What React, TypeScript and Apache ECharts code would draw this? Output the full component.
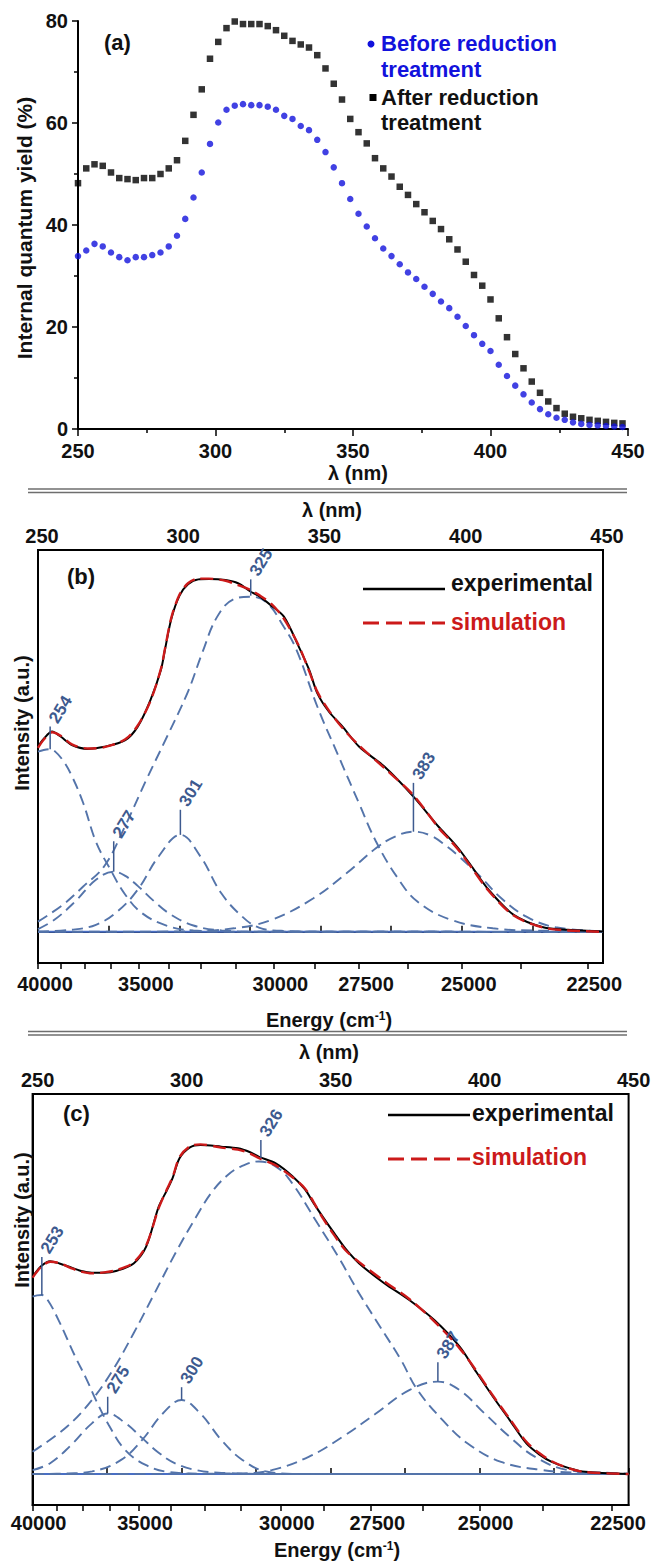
import React, { useEffect, useRef } from 'react';
import * as echarts from 'echarts';

const FONT = 'Arial, "Liberation Sans", Helvetica, sans-serif';

// ---------- Panel (a): internal quantum yield ----------
const lambdaA = [250, 253, 256, 259, 262, 265, 268, 271, 274, 277, 280, 283, 286, 289, 292, 295, 298, 301, 304, 307,
  310, 313, 316, 319, 322, 325, 328, 331, 334, 337, 340, 343, 346, 349, 352, 355, 358, 361, 364, 367,
  370, 373, 376, 379, 382, 385, 388, 391, 394, 397, 400, 403, 406, 409, 412, 415, 418, 421, 424, 427,
  430, 433, 436, 439, 442, 445, 448];
const beforeA = [33.9, 35.0, 36.3, 35.8, 34.6, 33.7, 33.1, 33.7, 33.7, 34.1,
  34.6, 35.8, 37.9, 41.2, 45.4, 50.3, 55.9, 60.1, 62.6, 63.4,
  63.7, 63.5, 63.5, 63.2, 62.6, 61.4, 60.8, 59.4, 58.6, 56.7,
  54.3, 51.3, 48.2, 45.1, 42.2, 39.7, 37.4, 35.4, 33.9, 32.3,
  30.7, 29.4, 27.9, 26.5, 25.0, 23.7, 22.0, 20.2, 18.4, 16.7,
  15.3, 12.6, 10.4, 8.5, 6.8, 5.2, 3.9, 2.9, 2.2, 1.8,
  1.3, 1.0, 0.8, 0.7, 0.6, 0.5, 0.4];
const afterA = [48.2, 51.1, 51.9, 51.6, 50.3, 49.2, 49.0, 48.8, 49.2, 49.2,
  50.0, 51.1, 52.7, 56.5, 61.6, 66.6, 72.6, 75.9, 78.6, 79.9,
  79.4, 79.4, 79.4, 79.0, 78.2, 77.1, 76.1, 75.4, 74.8, 73.3,
  70.7, 67.7, 64.6, 60.8, 58.2, 56.0, 53.1, 51.1, 49.5, 47.5,
  45.9, 44.1, 42.5, 40.8, 39.2, 37.2, 35.2, 32.8, 30.2, 28.1,
  25.4, 21.7, 18.0, 14.7, 11.9, 9.3, 7.1, 5.4, 4.1, 3.0,
  2.4, 2.1, 1.8, 1.6, 1.4, 1.2, 1.1];
const yTicksA = [0, 20, 40, 60, 80];

// ---------- Energy axis ticks (cm-1) ----------
const energyTicks = [40000, 38750, 37500, 36250, 35000, 33750, 32500, 31250, 30000, 28750, 27500, 26250, 25000, 23750, 22500];
const energyLabels = [40000, 35000, 30000, 27500, 25000, 22500];

// ---------- Panel (b) ----------
const expB = [[250, 52.3], [252, 54.5], [255, 56.6], [258, 55.2], [262, 52.8], [267.6, 51.7], [273.5, 52.3], [280.9, 54.2],
  [285.3, 58.0], [289.8, 65.5], [293.5, 74.0], [295, 80.0], [297.2, 88.5], [300.1, 95.0], [303.1, 98.2], [306.8, 99.6],
  [310.5, 99.7], [316.4, 99.4], [320.8, 98.5], [325.3, 96.1], [328, 95.0], [332.7, 92.1], [337.1, 89.0], [342.3, 80.6],
  [346, 74.0], [348.9, 67.4], [353, 62.2], [357.8, 58.0], [363.7, 52.3], [372.6, 46.7], [382.9, 38.2], [391.8, 29.7],
  [396.2, 26.0], [399.2, 23.2], [403.6, 18.4], [409.5, 11.9], [418.4, 4.8], [428.8, 1.3], [437.6, 0.6], [450, 0.1]];
const simB = [[250, 52.0], [252, 54.3], [255, 56.4], [258, 55.4], [262, 53.0], [267.6, 51.8], [273.5, 52.2], [280.9, 54.4],
  [285.3, 58.3], [289.8, 65.2], [293.5, 74.3], [295, 80.2], [297.2, 88.8], [300.1, 95.3], [303.1, 98.5], [306.8, 99.8],
  [310.5, 99.8], [316.4, 99.2], [320.8, 98.0], [325.3, 96.6], [328, 95.3], [332.7, 92.6], [337.1, 88.4], [342.3, 80.9],
  [346, 73.6], [348.9, 67.8], [353, 62.5], [357.8, 57.6], [363.7, 52.6], [372.6, 46.3], [382.9, 38.6], [391.8, 29.4],
  [396.2, 25.6], [399.2, 22.8], [403.6, 18.0], [409.5, 11.6], [418.4, 4.6], [428.8, 1.2], [437.6, 0.4], [450, 0.0]];
const c254B = [[250, 50.9], [252, 51.4], [254.3, 51.6], [256, 51.0], [258.7, 48.6], [262, 44.0], [266, 36.4], [270.5, 25.5],
  [275.7, 17.5], [280.9, 10.5], [286.8, 5.3], [295.7, 1.7], [305, 0.4], [320, 0.05], [450, 0]];
const c277B = [[250, 0.8], [255.8, 3.4], [263.2, 8.6], [270.5, 14.7], [276.8, 17.0], [280.9, 15.8], [285.3, 13.0],
  [291.3, 8.5], [297.2, 4.8], [305, 1.8], [315, 0.4], [330, 0.05], [450, 0]];
const c301B = [[250, 0.1], [262, 0.6], [270.5, 2.0], [278, 5.7], [285.3, 11.9], [292.7, 21.3], [300.4, 27.4], [307.5, 21.3],
  [314.9, 10.9], [322.3, 4.3], [328.2, 1.2], [336, 0.3], [350, 0.05], [450, 0]];
const c325B = [[250, 2.9], [258.7, 7.6], [266, 12.8], [273.5, 18.6], [280.9, 30.0], [288.3, 42.9], [295.7, 55.2],
  [303.1, 67.9], [308.3, 79.2], [313.4, 89.0], [319.3, 94.0], [325.3, 94.7], [331, 93.0], [337, 86.2], [341.5, 79.7],
  [349, 63.4], [356.3, 49.8], [363.7, 36.2], [369.6, 25.6], [377, 15.6], [384.4, 8.5], [396.2, 3.4], [411, 1.0],
  [430, 0.3], [450, 0.1]];
const c383B = [[250, 0], [300, 0.1], [319.4, 1.0], [332.7, 3.4], [347.5, 9.5], [359.3, 16.6], [369.6, 23.6], [376, 26.8],
  [382.9, 28.3], [389, 27.2], [394.8, 24.1], [399.2, 21.2], [406.6, 15.6], [414, 9.5], [422.9, 4.3], [433.2, 1.3], [450, 0.2]];
const baseB = [[250, 0], [450, 0]];
const peaksB = [[254.3, 51.6, 58.0], [276.8, 17.0, 25.6], [300.4, 27.4, 34.5], [325.3, 95.0, 99.6], [382.9, 28.3, 42.1]];
const peakLabelsB = ['254', '277', '301', '325', '383'];

// ---------- Panel (c) ----------
const expC = [[250, 60.0], [253, 63.3], [255.9, 64.7], [259, 64.0], [262.9, 62.8], [266, 61.8], [269.9, 61.2], [274, 61.2],
  [278.3, 61.8], [283.9, 64.0], [288.1, 69.1], [292.3, 81.2], [295.1, 86.3], [297, 90.0], [299.3, 96.0], [302.8, 99.3],
  [306.3, 100], [313.3, 99.5], [318.9, 99.0], [323, 97.8], [326, 96.4], [331.6, 94.4], [337.2, 90.5], [341.4, 86.5],
  [344.2, 82.5], [347.5, 78.0], [351.2, 73.2], [355, 68.5], [359.6, 64.0], [368, 58.0], [376.4, 52.9], [384.8, 46.8],
  [393.3, 38.7], [398.9, 31.0], [404.5, 23.5], [410.1, 16.4], [415.7, 9.3], [420, 6.0], [424.2, 3.7], [430, 1.8],
  [435.4, 0.7], [450, 0]];
const simC = [[250, 59.7], [253, 63.1], [255.9, 64.5], [259, 64.1], [262.9, 62.6], [266, 61.6], [269.9, 61.0], [274, 61.3],
  [278.3, 62.0], [283.9, 64.3], [288.1, 69.4], [292.3, 80.8], [295.1, 86.6], [297, 90.3], [299.3, 96.3], [302.8, 99.6],
  [306.3, 100.2], [313.3, 99.2], [318.9, 98.6], [323, 97.4], [326, 96.0], [331.6, 93.8], [337.2, 90.2], [341.4, 86.8],
  [344.2, 82.8], [347.5, 77.6], [351.2, 72.6], [355, 68.0], [359.6, 64.4], [368, 58.6], [376.4, 53.2], [384.8, 46.4],
  [393.3, 38.2], [398.9, 31.4], [404.5, 23.8], [410.1, 16.8], [415.7, 9.8], [420, 6.4], [424.2, 3.9], [430, 1.7],
  [435.4, 0.6], [450, 0]];
const c253C = [[250, 53.9], [251.5, 54.3], [253.1, 54.4], [255, 53.0], [258.7, 46.8], [264.3, 35.7], [268, 29.0],
  [271.5, 22.0], [275.5, 15.0], [281.1, 7.3], [288.1, 2.7], [296, 0.6], [310, 0.05], [450, 0]];
const c275C = [[250, 1.2], [255.9, 3.3], [262.9, 8.8], [269.9, 15.4], [275.2, 18.4], [281.1, 15.5], [286.7, 11.0],
  [292.3, 6.5], [298, 3.2], [305, 1.2], [315, 0.3], [330, 0.05], [450, 0]];
const c300C = [[250, 0], [262, 0.2], [270, 0.8], [279.7, 4.3], [286.7, 10.3], [293.7, 18.4], [300, 22.5], [306.3, 18.4],
  [313.4, 10.3], [320.4, 4.3], [328.8, 0.7], [340, 0.05], [450, 0]];
const c326C = [[250, 6.8], [261.5, 14.4], [269.9, 22.5], [276.9, 31.6], [283.9, 42.8], [290.9, 54.9], [297.9, 67.1],
  [304.9, 78.2], [310, 85.5], [315, 90.5], [320, 93.5], [326, 95.0], [332, 93.2], [337, 88.5], [345.6, 76.2],
  [352.6, 66.0], [359.6, 54.9], [366.6, 44.8], [373.6, 34.7], [379.2, 25.5], [387.6, 16.4], [396, 9.3], [407.2, 3.7],
  [421.2, 1.2], [435, 0.3], [450, 0]];
const c387C = [[250, 0], [320, 0.2], [330.2, 1.2], [342.8, 5.3], [354, 11.3], [365.2, 18.4], [376.4, 25.5], [386, 28.1],
  [393.3, 25.5], [401.7, 18.4], [410.1, 11.3], [418.5, 5.3], [429.7, 1.2], [445, 0.3], [450, 0.1]];
const baseC = [[250, 0], [450, 0]];
const peaksC = [[253.1, 54.4, 66.0], [275.2, 18.4, 23.5], [300, 22.5, 26.4], [326.6, 96.0, 101.5], [386, 28.1, 34.0]];
const peakLabelsC = ['253', '275', '300', '326', '387'];

// ---------- styles ----------
const BLUE = '#1212dc';
const RED = '#cc1a1a';
const COMP = '#5474aa';
const BASE = '#4a6fc4';
const ANN = '#3d5a8f';
const LBL = { fontFamily: FONT, fontWeight: 'bold' as const, fontSize: 20, color: '#111' };

function compSeries(data: number[][], gi: number) {
  return {
    type: 'line', xAxisIndex: gi === 1 ? 1 : 3, yAxisIndex: gi, data, smooth: 0.4, symbol: 'none', silent: true,
    lineStyle: { color: COMP, width: 1.9, type: [11, 6] }, z: 2,
  };
}
function curveSeries(data: number[][], gi: number, color: string, dashed: boolean) {
  return {
    type: 'line', xAxisIndex: gi === 1 ? 1 : 3, yAxisIndex: gi, data, smooth: 0.3, symbol: 'none', silent: true,
    lineStyle: { color, width: dashed ? 2.4 : 2, type: dashed ? [13, 6] : 'solid' }, z: dashed ? 4 : 3,
  };
}
function peakSeries(data: number[][], labels: string[], gi: number) {
  return {
    type: 'custom', xAxisIndex: gi === 1 ? 1 : 3, yAxisIndex: gi, data, silent: true, z: 5,
    encode: { x: 0, y: 1 },
    renderItem: (params: any, api: any) => {
      const p0 = api.coord([api.value(0), api.value(1)]);
      const p1 = api.coord([api.value(0), api.value(2)]);
      return {
        type: 'group',
        children: [
          { type: 'line', shape: { x1: p0[0], y1: p0[1], x2: p1[0], y2: p1[1] }, style: { stroke: ANN, lineWidth: 1.5 } },
          {
            type: 'text', x: p1[0] + 3, y: p1[1] - 5, rotation: 1.02,
            style: {
              text: labels[params.dataIndex], fill: ANN, font: `bold 17px ${FONT}`,
              textAlign: 'left', textVerticalAlign: 'middle', align: 'left', verticalAlign: 'middle',
            },
          },
        ],
      };
    },
  };
}

function txt(text: string, x: number, y: number, opts: any = {}) {
  return {
    type: 'text', x, y, rotation: opts.rotation || 0, silent: true, z: 10,
    style: {
      text, fill: opts.color || '#111', font: `bold ${opts.size || 20}px ${FONT}`,
      textAlign: opts.align || 'left', textVerticalAlign: 'middle', align: opts.align || 'left', verticalAlign: 'middle',
      rich: opts.rich,
    },
  };
}
function ln(x1: number, y1: number, x2: number, y2: number, stroke: string, lineWidth: number, dash?: number[]) {
  return { type: 'line', silent: true, z: 10, shape: { x1, y1, x2, y2 }, style: { stroke, lineWidth, lineDash: dash } };
}
const supRich = { sup: { fontSize: 12, fontWeight: 'bold', fontFamily: FONT, verticalAlign: 'top', fill: '#111', lineHeight: 14 } };

const lamX = energyTicks.map((e) => 1e7 / e);
const lamL = energyLabels.map((e) => 1e7 / e);
const energyFmt = (v: number) => String(Math.round(1e7 / v));

function topAxis(gi: number, pad: number) {
  return {
    type: 'value', gridIndex: gi, position: 'top', min: 250, max: 450, interval: 25,
    axisLine: { lineStyle: { color: '#000', width: 2 } },
    axisTick: { length: 6, lineStyle: { color: '#000', width: 1.5 } },
    axisLabel: { ...LBL, margin: 4, padding: [0, 0, 0, pad], formatter: (v: number) => (v % 50 === 0 ? String(v) : '') },
    splitLine: { show: false },
  };
}
function bottomEnergyAxis(gi: number, margin: number, pad: number) {
  return {
    type: 'value', gridIndex: gi, position: 'bottom', min: 250, max: 450,
    axisLine: { lineStyle: { color: '#000', width: 2 } },
    axisTick: { length: 6, customValues: lamX, lineStyle: { color: '#000', width: 1.5 } },
    axisLabel: { ...LBL, margin, padding: [0, 0, 0, pad], customValues: lamL, formatter: energyFmt },
    splitLine: { show: false },
  };
}
function intensityAxis(gi: number, min: number, max: number) {
  return {
    type: 'value', gridIndex: gi, min, max,
    axisLine: { show: true, lineStyle: { color: '#000', width: 2 } },
    axisTick: { show: false }, axisLabel: { show: false }, splitLine: { show: false },
  };
}

const option: any = {
  animation: false,
  backgroundColor: '#fff',
  grid: [
    { left: 78, top: 21, width: 550, height: 408 },
    { left: 38, top: 550, width: 565, height: 413, show: true, borderColor: '#000', borderWidth: 2, backgroundColor: 'transparent' },
    { left: 32.6, top: 1094, width: 596, height: 411, show: true, borderColor: '#000', borderWidth: 2, backgroundColor: 'transparent' },
  ],
  xAxis: [
    {
      type: 'value', gridIndex: 0, min: 250, max: 450, interval: 50,
      axisLine: { lineStyle: { color: '#000', width: 2 } },
      axisTick: { length: 7, lineStyle: { color: '#000', width: 1.5 } },
      minorTick: { show: true, splitNumber: 2, length: 4, lineStyle: { color: '#000', width: 1.5 } },
      axisLabel: { ...LBL, margin: 12 },
      splitLine: { show: false },
    },
    topAxis(1, 8),
    bottomEnergyAxis(1, 11, 14),
    topAxis(2, 10),
    bottomEnergyAxis(2, 8, 12),
  ],
  yAxis: [
    {
      type: 'value', gridIndex: 0, min: yTicksA[0], max: yTicksA[yTicksA.length - 1], interval: 20,
      axisLine: { show: true, lineStyle: { color: '#000', width: 2 } },
      axisTick: { show: true, length: 6, lineStyle: { color: '#000', width: 1.5 } },
      minorTick: { show: true, splitNumber: 2, length: 4, lineStyle: { color: '#000', width: 1.5 } },
      axisLabel: { ...LBL, margin: 10 },
      splitLine: { show: false },
    },
    intensityAxis(1, -8.8, 107.9),
    intensityAxis(2, -9.4, 115.5),
  ],
  series: [
    {
      type: 'scatter', xAxisIndex: 0, yAxisIndex: 0, symbol: 'rect', symbolSize: 6.5, silent: true,
      itemStyle: { color: '#000' }, data: lambdaA.map((l, i) => [l, afterA[i]]),
    },
    {
      type: 'scatter', xAxisIndex: 0, yAxisIndex: 0, symbol: 'circle', symbolSize: 6.5, silent: true,
      itemStyle: { color: BLUE }, data: lambdaA.map((l, i) => [l, beforeA[i]]),
    },
    // panel b
    { type: 'line', xAxisIndex: 1, yAxisIndex: 1, data: baseB, symbol: 'none', silent: true, lineStyle: { color: BASE, width: 2 }, z: 2 },
    compSeries(c254B, 1), compSeries(c277B, 1), compSeries(c301B, 1), compSeries(c325B, 1), compSeries(c383B, 1),
    curveSeries(expB, 1, '#000', false),
    curveSeries(simB, 1, RED, true),
    peakSeries(peaksB, peakLabelsB, 1),
    // panel c
    { type: 'line', xAxisIndex: 3, yAxisIndex: 2, data: baseC, symbol: 'none', silent: true, lineStyle: { color: BASE, width: 2 }, z: 2 },
    compSeries(c253C, 2), compSeries(c275C, 2), compSeries(c300C, 2), compSeries(c326C, 2), compSeries(c387C, 2),
    curveSeries(expC, 2, '#000', false),
    curveSeries(simC, 2, RED, true),
    peakSeries(peaksC, peakLabelsC, 2),
  ],
  graphic: [
    // panel a
    txt('(a)', 104, 42, { size: 22 }),
    { type: 'circle', silent: true, shape: { cx: 371, cy: 44, r: 3.5 }, style: { fill: BLUE } },
    txt('Before reduction', 381, 43, { size: 22, color: BLUE }),
    txt('treatment', 381, 69, { size: 22, color: BLUE }),
    { type: 'rect', silent: true, shape: { x: 369.5, y: 94, width: 7, height: 7 }, style: { fill: '#000' } },
    txt('After reduction', 381, 97, { size: 22 }),
    txt('treatment', 381, 122, { size: 22 }),
    txt('Internal quantum yield (%)', 24, 228, { rotation: Math.PI / 2, align: 'center', size: 21 }),
    txt('λ (nm)', 358, 473, { align: 'center' }),
    ln(28, 489, 627, 489, '#6e6e6e', 1.5), ln(28, 492.5, 627, 492.5, '#6e6e6e', 1.5),
    // panel b
    txt('λ (nm)', 332, 510, { align: 'center' }),
    txt('(b)', 67, 576, { size: 22 }),
    ln(363, 589, 445, 589, '#000', 2.5),
    txt('experimental', 451, 583, { size: 23 }),
    ln(363, 623, 445, 623, RED, 3, [16, 7]),
    txt('simulation', 451, 622, { size: 23, color: RED }),
    txt('Intensity (a.u.)', 22, 723, { rotation: Math.PI / 2, align: 'center' }),
    txt('Energy (cm{sup|-1})', 329, 1020, { align: 'center', rich: supRich }),
    ln(28, 1031.5, 627, 1031.5, '#6e6e6e', 1.5), ln(28, 1035, 627, 1035, '#6e6e6e', 1.5),
    // panel c
    txt('λ (nm)', 329, 1052, { align: 'center' }),
    txt('(c)', 63, 1113, { size: 22 }),
    ln(388, 1115, 470, 1115, '#000', 2.5),
    txt('experimental', 472, 1113, { size: 23 }),
    ln(388, 1159, 470, 1159, RED, 3, [16, 7]),
    txt('simulation', 472, 1157, { size: 23, color: RED }),
    txt('Intensity (a.u.)', 22, 1220, { rotation: Math.PI / 2, align: 'center' }),
    txt('Energy (cm{sup|-1})', 337, 1550, { align: 'center', rich: supRich }),
  ],
};

export default function App() {
  const ref = useRef<HTMLDivElement>(null);
  useEffect(() => {
    const chart = echarts.init(ref.current as HTMLDivElement, null, { renderer: 'svg' });
    chart.setOption(option);
    return () => chart.dispose();
  }, []);
  return <div ref={ref} style={{ position: 'absolute', left: 0, top: 0, width: 655, height: 1563, background: '#fff' }} />;
}
